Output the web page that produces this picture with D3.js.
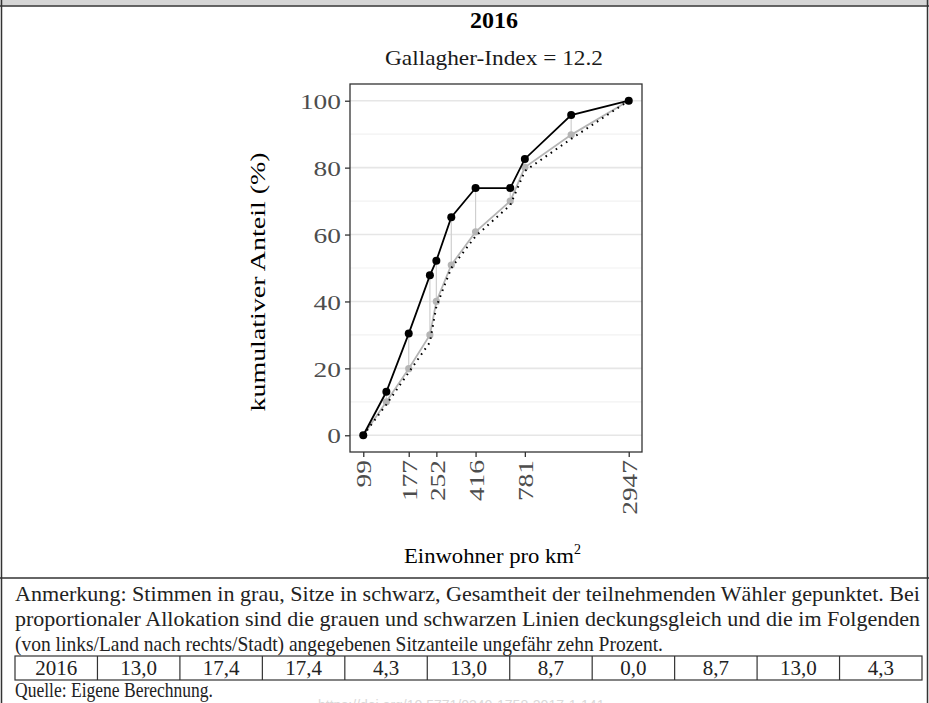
<!DOCTYPE html>
<html><head><meta charset="utf-8">
<script src="https://cdn.jsdelivr.net/npm/d3@7"></script>
<style>body{margin:0;background:#fff} svg{display:block}</style>
</head><body><svg id="c" width="929" height="703"></svg>
<script>
// ---- data ----
const densities = [99, 133, 177, 232, 252, 305, 416, 648, 781, 1412, 2947];
const seatsCum  = [0, 13.0, 30.4, 47.8, 52.2, 65.2, 73.9, 73.9, 82.6, 95.7, 100];
const votesCum  = [0, 10.0, 19.9, 30.0, 40.0, 50.9, 60.8, 70.0, 80.1, 89.8, 100];
const votersCum = [0, 9.2, 18.8, 27.8, 38.5, 50.0, 59.5, 68.8, 79.0, 88.6, 100];
const xTickValues = [99, 177, 252, 416, 781, 2947];
const yTickValues = [0, 20, 40, 60, 80, 100];
const yMinorValues = [10, 30, 50, 70, 90];
const chartTitle = "2016";
const chartSubtitle = "Gallagher-Index = 12.2";
const yTitle = "kumulativer Anteil (%)";
const xTitle = "Einwohner pro km";
const noteLines = [
  "Anmerkung: Stimmen in grau, Sitze in schwarz, Gesamtheit der teilnehmenden Wähler gepunktet. Bei",
  "proportionaler Allokation sind die grauen und schwarzen Linien deckungsgleich und die im Folgenden",
  "(von links/Land nach rechts/Stadt) angegebenen Sitzanteile ungefähr zehn Prozent."
];
const tableYear = "2016";
const seatShares = ["13,0", "17,4", "17,4", "4,3", "13,0", "8,7", "0,0", "8,7", "13,0", "4,3"];
const sourceText = "Quelle: Eigene Berechnung.";
const doiText = "https://doi.org/10.5771/0340-1758-2017-1-141";

// ---- layout ----
const svg = d3.select("#c");
const W = 929, H = 703;
const P = {l: 350, r: 642, t: 84, b: 452};
const serif = "'Liberation Serif', 'Times New Roman', serif";

// log x-scale with 5% expansion like ggplot
const lx0 = Math.log10(d3.min(densities)), lx1 = Math.log10(d3.max(densities));
const ex = (lx1 - lx0) * 0.05;
const x = d3.scaleLog().domain([Math.pow(10, lx0 - ex), Math.pow(10, lx1 + ex)]).range([P.l, P.r]);
const y = d3.scaleLinear().domain([-5, 105]).range([P.b, P.t]);

// page frame
svg.append("rect").attr("x", 0).attr("y", 0).attr("width", W).attr("height", 5.5).attr("fill", "#d6d6d6");
svg.append("line").attr("x1", 0).attr("x2", W).attr("y1", 6).attr("y2", 6).attr("stroke", "#333").attr("stroke-width", 1.6);
svg.append("line").attr("x1", 1.5).attr("x2", 1.5).attr("y1", 0).attr("y2", H).attr("stroke", "#333").attr("stroke-width", 1.5);
svg.append("line").attr("x1", 927.5).attr("x2", 927.5).attr("y1", 0).attr("y2", H).attr("stroke", "#333").attr("stroke-width", 1.5);
svg.append("line").attr("x1", 0).attr("x2", W).attr("y1", 578).attr("y2", 578).attr("stroke", "#333").attr("stroke-width", 1.5);

// titles
svg.append("text").attr("x", 494).attr("y", 28).attr("text-anchor", "middle")
  .attr("font-family", serif).attr("font-weight", "bold").attr("font-size", 24).attr("fill", "#000").text(chartTitle);
svg.append("text").attr("x", 494).attr("y", 65).attr("text-anchor", "middle")
  .attr("font-family", serif).attr("font-size", 22).attr("fill", "#1a1a1a")
  .attr("textLength", 218).attr("lengthAdjust", "spacingAndGlyphs").text(chartSubtitle);

// grid
const g = svg.append("g");
g.selectAll(".minor").data(yMinorValues).join("line")
  .attr("x1", P.l).attr("x2", P.r).attr("y1", d => y(d)).attr("y2", d => y(d))
  .attr("stroke", "#f2f2f2").attr("stroke-width", 1.2);
g.selectAll(".major").data(yTickValues).join("line")
  .attr("x1", P.l).attr("x2", P.r).attr("y1", d => y(d)).attr("y2", d => y(d))
  .attr("stroke", "#e6e6e6").attr("stroke-width", 1.6);

// vertical connectors between votes and seats
const pts = densities.map((d, i) => ({d, s: seatsCum[i], v: votesCum[i], w: votersCum[i]}));
g.selectAll(".conn").data(pts).join("line")
  .attr("x1", p => x(p.d)).attr("x2", p => x(p.d)).attr("y1", p => y(p.v)).attr("y2", p => y(p.s))
  .attr("stroke", "#cfcfcf").attr("stroke-width", 1.2);

// votes (grey)
const line = key => d3.line().x(p => x(p.d)).y(p => y(p[key]));
g.append("path").datum(pts).attr("d", line("v")).attr("fill", "none").attr("stroke", "#b5b5b5").attr("stroke-width", 1.8);
g.selectAll(".vp").data(pts).join("circle").attr("cx", p => x(p.d)).attr("cy", p => y(p.v)).attr("r", 3.6).attr("fill", "#b5b5b5");

// voters (dotted)
g.append("path").datum(pts).attr("d", line("w")).attr("fill", "none").attr("stroke", "#000")
  .attr("stroke-width", 2).attr("stroke-dasharray", "1.6,4.6");

// seats (black)
g.append("path").datum(pts).attr("d", line("s")).attr("fill", "none").attr("stroke", "#000").attr("stroke-width", 1.8);
g.selectAll(".sp").data(pts).join("circle").attr("cx", p => x(p.d)).attr("cy", p => y(p.s)).attr("r", 4).attr("fill", "#000");

// panel border
svg.append("rect").attr("x", P.l).attr("y", P.t).attr("width", P.r - P.l).attr("height", P.b - P.t)
  .attr("fill", "none").attr("stroke", "#333").attr("stroke-width", 1.3);

// axes
const yAxis = svg.append("g").attr("transform", `translate(${P.l},0)`)
  .call(d3.axisLeft(y).tickValues(yTickValues).tickSize(5).tickPadding(4));
yAxis.select(".domain").remove();
yAxis.selectAll(".tick line").attr("stroke", "#333").attr("stroke-width", 1.3);
yAxis.selectAll(".tick text").attr("font-family", serif).attr("font-size", 22).attr("fill", "#4d4d4d")
  .attr("dy", "0.35em")
  .attr("textLength", d => String(d).length * 13.7).attr("lengthAdjust", "spacingAndGlyphs");

const xAxis = svg.append("g").attr("transform", `translate(0,${P.b})`)
  .call(d3.axisBottom(x).tickValues(xTickValues).tickFormat(d3.format("d")).tickSize(5).tickPadding(4));
xAxis.select(".domain").remove();
xAxis.selectAll(".tick line").attr("stroke", "#333").attr("stroke-width", 1.3);
xAxis.selectAll(".tick text").attr("font-family", serif).attr("font-size", 22).attr("fill", "#4d4d4d")
  .attr("transform", "rotate(-90)").attr("text-anchor", "end")
  .attr("x", -8).attr("y", 0).attr("dy", "0.35em")
  .attr("textLength", d => String(d).length * 13.7).attr("lengthAdjust", "spacingAndGlyphs");

// axis titles
svg.append("text").attr("transform", "translate(265,282) rotate(-90)").attr("text-anchor", "middle")
  .attr("font-family", serif).attr("font-size", 22).attr("fill", "#000")
  .attr("textLength", 259).attr("lengthAdjust", "spacingAndGlyphs").text(yTitle);
const xt = svg.append("text").attr("x", 404).attr("y", 563)
  .attr("font-family", serif).attr("font-size", 22).attr("fill", "#000");
xt.append("tspan").attr("textLength", 170).attr("lengthAdjust", "spacingAndGlyphs").text(xTitle);
xt.append("tspan").attr("font-size", 14).attr("dy", -9).text("2");

// notes
const noteY = [601, 626, 651];
const noteW = [905, 905, 648];
noteLines.forEach((t, i) => {
  svg.append("text").attr("x", 15).attr("y", noteY[i]).attr("font-family", serif).attr("font-size", 21)
    .attr("fill", "#222").attr("textLength", noteW[i]).attr("lengthAdjust", "spacingAndGlyphs").text(t);
});

// table
const cells = [tableYear].concat(seatShares);
const tb = {x0: 15, x1: 922, y0: 656, y1: 680};
const cw = d3.scaleBand().domain(d3.range(cells.length)).range([tb.x0, tb.x1]);
svg.append("rect").attr("x", tb.x0).attr("y", tb.y0).attr("width", tb.x1 - tb.x0).attr("height", tb.y1 - tb.y0)
  .attr("fill", "none").attr("stroke", "#333").attr("stroke-width", 1.2);
svg.selectAll(".div").data(d3.range(1, cells.length)).join("line")
  .attr("x1", i => cw(i)).attr("x2", i => cw(i)).attr("y1", tb.y0).attr("y2", tb.y1)
  .attr("stroke", "#333").attr("stroke-width", 1.2);
svg.selectAll(".cell").data(cells).join("text")
  .attr("x", (d, i) => cw(i) + cw.bandwidth() / 2).attr("y", 675).attr("text-anchor", "middle")
  .attr("font-family", serif).attr("font-size", 21).attr("fill", "#222").text(d => d);

// source + watermark
svg.append("text").attr("x", 15).attr("y", 697).attr("font-family", serif).attr("font-size", 20)
  .attr("fill", "#222").attr("textLength", 198).attr("lengthAdjust", "spacingAndGlyphs").text(sourceText);
svg.append("text").attr("x", 318).attr("y", 710).attr("font-family", "'Liberation Sans', Arial, sans-serif")
  .attr("font-size", 14).attr("fill", "#d9d9d9").text(doiText);
</script>
</body></html>
